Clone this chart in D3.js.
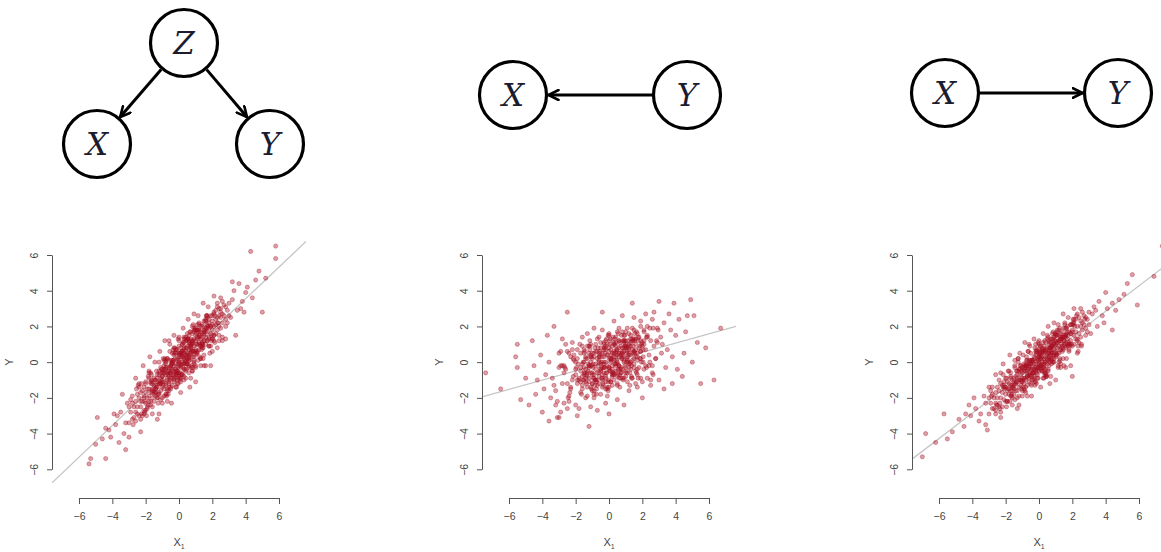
<!DOCTYPE html>
<html>
<head>
<meta charset="utf-8">
<script src="https://cdn.jsdelivr.net/npm/d3@7"></script>
<style>
  body { margin: 0; background: #fff; }
  svg { display: block; }
</style>
</head>
<body>
<svg id="chart" width="1161" height="552"></svg>
<script>
// ---------- DATA ----------
const xTicks = [-6, -4, -2, 0, 2, 4, 6];
const yTicks = [-6, -4, -2, 0, 2, 4, 6];
const xTitle = "X";
const xTitleSub = "1";
const yTitle = "Y";

// fitted regression lines (slope, intercept)
const slopes = [0.887, 0.259, 0.713];
const intercepts = [0.0, 0.03, 0.0];

// DAG nodes and edges
const dagNodes = [
  [{id: "Z", cx: 184, cy: 43}, {id: "X", cx: 97, cy: 144}, {id: "Y", cx: 270, cy: 144}],
  [{id: "X", cx: 513, cy: 95}, {id: "Y", cx: 687, cy: 95}],
  [{id: "X", cx: 945, cy: 93}, {id: "Y", cx: 1118, cy: 93}]
];
const dagEdges = [
  [["Z", "X"], ["Z", "Y"]],
  [["Y", "X"]],
  [["X", "Y"]]
];

// scatter points, panel 1 (common cause)
const points1 = [
[0.1,0.3],[-0.4,-0.9],[0.6,0.2],[1.2,1.5],[-0.8,-0.3],[0.3,-0.4],[-1.1,-1.6],[0.9,1.3],[-0.2,0.5],[0.5,0.9],
[1.4,0.8],[-1.3,-0.7],[0.0,-0.6],[0.7,1.7],[-0.6,-1.4],[1.0,0.4],[-0.9,-1.1],[0.2,1.0],[-0.3,-0.2],[1.3,2.0],
[-1.4,-1.9],[0.4,0.1],[-0.7,0.2],[0.8,0.6],[-0.1,-1.2],[1.1,1.0],[-1.0,-0.4],[0.6,1.2],[-0.5,-0.6],[0.0,0.4],
[1.5,1.2],[-1.2,-1.2],[0.3,0.7],[-0.4,0.0],[0.9,0.3],[-0.8,-1.8],[1.2,2.2],[0.1,-0.3],[-0.6,-0.5],[0.5,-0.1],
[-1.5,-2.2],[1.0,1.8],[-0.2,-0.7],[0.7,0.5],[-0.9,-0.2],[0.4,1.4],[-1.1,-0.9],[1.4,1.6],[-0.3,-1.0],[0.2,0.0],
[0.8,1.1],[-0.7,-1.0],[1.3,0.9],[-1.3,-2.0],[0.0,0.9],[0.6,-0.2],[-0.5,-1.5],[1.1,2.1],[-1.0,-1.4],[0.3,0.2],
[-0.1,0.1],[0.9,0.9],[-0.8,-0.7],[1.5,2.3],[-1.4,-1.0],[0.5,0.5],[-0.4,-0.4],[1.2,0.7],[-0.6,0.1],[0.1,0.8],
[0.7,1.0],[-1.2,-1.7],[0.4,-0.5],[-0.2,-0.1],[1.0,1.2],[-0.9,-1.5],[0.2,0.6],[1.4,1.1],[-0.7,-0.6],[0.8,1.6],
[-1.1,-0.3],[0.0,-0.2],[0.6,0.7],[-0.3,-0.8],[1.3,1.4],[-1.5,-1.3],[0.5,1.6],[-0.5,-0.2],[0.9,0.0],[-1.0,-2.0],
[0.3,-0.1],[1.1,0.6],[-0.6,-1.1],[0.1,0.5],[-1.3,-1.4],[0.7,1.3],[-0.2,-0.4],[1.5,1.8],[-0.8,-1.3],[0.4,0.8],
[-0.4,-1.3],[1.2,1.1],[0.0,0.0],[-0.9,-0.6],[0.6,0.4],[-1.2,-0.5],[0.8,2.0],[-0.1,-0.9],[1.0,0.7],[-0.7,-1.6],
[0.2,-0.7],[1.4,2.1],[-1.4,-1.5],[0.5,0.2],[-0.3,0.4],[0.9,1.7],[-1.1,-1.2],[0.3,1.1],[-0.5,-0.9],[1.3,1.7],
[0.1,-0.6],[-0.8,-0.1],[0.7,0.8],[-1.5,-1.8],[1.1,1.4],[-0.2,-1.4],[0.4,0.4],[-1.0,-0.8],[0.6,1.5],[-0.6,-0.3],
[1.5,1.5],[-1.3,-1.1],[0.0,1.2],[0.8,0.3],[-0.4,-0.5],[1.2,1.8],[-0.9,-1.9],[0.2,0.3],[-0.1,-0.5],[1.0,1.5],
[1.6,1.0],[2.0,2.3],[1.8,1.4],[2.4,2.0],[1.7,2.5],[2.2,1.6],[2.6,2.7],[1.9,2.0],[2.1,2.8],[2.8,2.4],
[1.6,1.9],[2.3,2.5],[2.0,1.3],[2.7,3.2],[1.8,2.2],[2.5,1.9],[2.9,2.9],[1.7,1.2],[2.2,2.1],[2.4,3.0],
[3.0,2.6],[1.9,1.6],[2.6,2.2],[2.1,2.0],[1.6,2.3],[2.8,3.1],[2.3,1.8],[2.0,2.6],[2.5,2.5],[1.7,1.7],
[2.9,2.2],[2.2,2.9],[1.8,0.9],[2.7,2.6],[2.4,1.5],[2.0,1.8],[1.6,1.4],[2.6,3.4],[3.0,3.3],[2.1,1.5],
[2.3,3.3],[1.9,2.6],[2.8,2.0],[2.5,2.8],[1.7,2.1],
[-1.6,-1.2],[-2.0,-2.3],[-1.8,-1.5],[-2.4,-2.0],[-1.7,-2.4],[-2.2,-1.6],[-2.6,-2.8],[-1.9,-2.0],[-2.1,-2.7],[-2.8,-2.3],
[-1.6,-2.0],[-2.3,-2.5],[-2.0,-1.2],[-2.7,-3.1],[-1.8,-2.2],[-2.5,-1.8],[-2.9,-2.8],[-1.7,-1.1],[-2.2,-2.2],[-2.4,-3.0],
[-3.0,-2.5],[-1.9,-1.5],[-2.6,-2.2],[-2.1,-1.9],[-1.6,-2.5],[-2.8,-3.2],[-2.3,-1.7],[-2.0,-2.7],[-2.5,-2.5],[-1.7,-1.7],
[-2.9,-2.1],[-2.2,-3.0],[-1.8,-0.9],[-2.7,-2.5],[-2.4,-1.4],[-2.0,-1.7],[-1.6,-1.5],[-2.6,-3.3],[-3.0,-3.4],[-2.1,-1.4],
[-2.3,-3.2],[-1.9,-2.6],[-2.8,-1.9],[-2.5,-2.9],[-1.7,-2.2],
[3.2,3.5],[3.5,2.9],[3.3,4.0],[3.8,3.4],[4.1,4.2],[3.6,4.4],[4.4,3.6],[3.1,2.5],[3.9,2.8],[4.3,6.2],
[5.8,6.5],[5.8,5.8],[5.0,2.8],[4.6,4.6],[3.4,1.5],[4.8,5.1],[3.7,3.0],[4.0,3.9],[5.2,4.7],[3.2,4.5],
[-3.2,-3.4],[-3.5,-2.8],[-3.3,-4.0],[-3.8,-3.5],[-4.1,-4.2],[-3.6,-4.5],[-4.4,-3.7],[-3.1,-2.3],[-3.9,-2.9],[-4.4,-5.4],
[-5.3,-5.4],[-4.9,-3.1],[-3.2,-4.9],[-4.6,-4.3],[-3.4,-1.8],[-5.0,-4.6],[-3.7,-3.0],[-4.2,-3.8],[-5.4,-5.7],[-3.0,-4.2]
];
// panel 1, additional points in the dense core
const points1Core = [
[-2.4,-1.2],[-1.9,-2.5],[-1.5,-0.9],[-1.1,-2.1],[-0.8,0.0],[-0.5,-0.7],[-0.3,0.8],[-0.1,-0.6],[0.0,0.1],[0.2,-0.7],
[0.4,1.2],[0.6,0.1],[0.8,1.2],[1.0,-0.3],[1.2,2.1],[1.5,1.2],[1.8,1.9],[2.1,1.2],[2.5,3.0],[-2.1,-2.9],
[-1.7,-0.6],[-1.3,-2.0],[-0.9,-0.4],[-0.6,-1.6],[-0.2,0.5],[0.1,-0.1],[0.3,1.4],[0.5,-0.1],[0.7,0.7],[0.9,-0.1],
[1.1,1.8],[1.4,0.9],[1.7,2.0],[2.0,0.6],[2.3,3.1],[-1.0,-1.0],[-0.4,-0.1],[0.0,-0.7],[0.5,1.3],[1.3,0.2],
[-2.3,-2.2],[-1.8,-0.5],[-1.4,-1.7],[-1.0,-0.8],[-0.7,-1.5],[-0.4,0.5],[-0.2,-0.6],[0.0,0.5],[0.1,-1.1],[0.3,1.3],
[0.5,0.4],[0.7,0.9],[0.9,0.1],[1.1,1.8],[1.3,0.2],[1.6,2.3],[1.9,0.9],[2.2,2.4],[2.6,1.2],[-2.0,-1.1],
[-1.6,-1.6],[-1.2,0.0],[-0.8,-1.2],[-0.5,-0.3],[-0.1,-1.0],[0.2,1.0],[0.4,0.0],[0.6,1.1],[0.8,-0.5],[1.0,1.9],
[1.2,1.0],[1.5,1.7],[1.8,0.9],[2.1,2.7],[2.4,1.2],[-0.9,0.1],[-0.3,-1.1],[0.1,0.5],[0.6,-0.6],[1.4,2.0],
[-2.55,-1.5],[-2.05,-2.2],[-1.65,-1.0],[-1.25,-2.3],[-0.95,0.2],[-0.65,-0.7],[-0.45,-0.1],[-0.25,-0.9],[-0.15,0.7],[0.05,-1.0],
[0.25,1.1],[0.45,-0.4],[0.65,1.0],[0.85,-0.3],[1.05,1.6],[1.35,1.0],[1.65,2.6],[1.95,1.2],[2.35,2.2],[-2.25,-2.9],
[-1.85,-0.8],[-1.45,-1.7],[-1.05,-0.4],[-0.75,-1.9],[-0.35,0.7],[-0.05,-0.1],[0.15,0.4],[0.35,-0.4],[0.55,1.3],[0.75,-0.3],
[0.95,1.8],[1.25,0.3],[1.55,1.8],[1.85,0.5],[2.15,2.6],[-1.15,-1.2],[-0.55,0.6],[-0.15,-0.6],[0.35,0.4],[1.15,0.1],
[-2.1,-2.0],[-1.6,-1.1],[-1.2,-1.8],[-0.8,0.1],[-0.5,-1.4],[-0.2,0.7],[0.0,-0.8],[0.2,0.6],[0.3,-0.8],[0.5,1.2],
[0.7,0.4],[0.9,1.9],[1.1,0.5],[1.3,1.3],[1.5,0.4],[1.8,2.4],[2.1,1.5],[2.4,2.6],[2.8,1.3],[-1.8,-0.6],
[-1.4,-1.3],[-1.0,-0.6],[-0.6,-1.2],[-0.3,0.5],[0.1,-0.9],[0.4,1.3],[0.6,-0.3],[0.8,1.1],[1.0,-0.2],[1.2,1.8],
[1.4,1.0],[1.7,2.6],[2.0,1.3],[2.3,2.2],[2.6,1.4],[-0.7,0.2],[-0.1,-0.5],[0.3,0.8],[0.8,-0.5],[1.6,2.4],
[-2.75,-3.5],[-2.25,-1.2],[-1.85,-2.4],[-1.45,-1.0],[-1.15,-1.1],[-0.85,0.2],[-0.65,-1.8],[-0.45,0.1],[-0.35,-0.7],[-0.15,0.7],
[0.05,-0.9],[0.25,0.3],[0.45,-0.1],[0.65,1.7],[0.85,0.6],[1.15,1.7],[1.45,0.2],[1.75,2.0],[2.15,1.1],[-2.45,-1.3],
[-2.05,-2.8],[-1.65,-0.7],[-1.25,-1.8],[-0.95,-0.5],[-0.55,-0.6],[-0.25,0.8],[-0.05,-1.2],[0.15,0.6],[0.35,-0.1],[0.55,1.3],
[0.75,-0.2],[1.05,1.0],[1.35,0.7],[1.65,2.6],[1.95,1.5],[-1.35,-0.5],[-0.75,-1.8],[-0.35,0.1],[0.15,-0.7],[0.95,1.8],
[-1.8,-1.9],[-1.5,-1.6],[-1.3,-0.9],[-1.1,-1.2],[-0.9,-0.6],[-0.7,-0.9],[-0.5,-0.2],[-0.3,-0.5],[-0.1,0.2],[0.1,-0.2],
[0.3,0.5],[0.5,0.2],[0.7,0.9],[0.9,0.6],[1.1,1.3],[1.3,0.9],[1.5,1.6],[1.7,1.2],[1.9,2.0],[-1.7,-1.2],
[-1.4,-1.5],[-1.2,-0.7],[-1.0,-1.1],[-0.8,-0.4],[-0.6,-0.8],[-0.4,0.0],[-0.2,-0.4],[0.0,0.3],[0.2,-0.1],[0.4,0.6],
[0.6,0.3],[0.8,1.0],[1.0,0.6],[1.2,1.4],[1.4,1.0],[1.6,1.7],[1.8,1.3],[2.0,2.1],[-1.6,-1.7],[-0.05,-0.3],
[-1.35,-1.4],[-1.15,-0.6],[-0.95,-1.3],[-0.75,-0.3],[-0.55,-1.0],[-0.35,0.1],[-0.15,-0.7],[0.05,0.5],[0.25,-0.3],[0.45,0.8],
[0.65,0.1],[0.85,1.2],[1.05,0.5],[1.25,1.5],[1.45,0.8],[1.65,1.9],[-0.25,0.2],[0.35,0.1],[0.75,0.6],[-0.65,-0.5]
];
// panel 1, points at the edges of the band
const points1Edge = [
[-2.6,-0.9],[-2.3,-3.9],[-2.15,-0.2],[-1.95,-3.0],[-1.75,0.3],[-1.6,-2.9],[-1.45,0.0],[-1.3,-3.2],[-1.15,0.6],[-1.0,-2.3],
[-0.85,1.2],[-0.7,-2.2],[-0.55,1.0],[-0.45,-2.3],[-0.3,1.5],[-0.15,-1.4],[0.0,1.4],[0.1,-1.7],[0.25,1.9],[0.4,-0.9],
[0.55,2.4],[0.7,-0.9],[0.85,2.1],[1.0,-1.1],[1.15,2.6],[1.3,-0.2],[1.45,3.3],[1.6,-0.2],[1.75,3.1],[1.9,-0.2],
[2.1,3.7],[2.3,0.8],[2.5,3.6],[-1.2,-2.9],[-0.6,1.2],[0.3,-1.0],[0.9,2.7],[1.5,-0.2],[-0.05,1.3],[0.65,-1.4]
];

// scatter points, panel 2 (Y causes X)
const points2 = [
[0.1,0.2],[-0.5,-0.4],[0.8,0.5],[1.3,1.1],[-1.0,-0.2],[0.4,-0.6],[-1.4,-1.1],[1.0,0.9],[-0.2,0.7],[0.6,1.2],
[1.6,0.3],[-1.7,-0.5],[0.0,-1.0],[0.9,1.5],[-0.7,-1.3],[1.2,-0.1],[-1.1,0.4],[0.3,1.0],[-0.3,-0.3],[1.8,1.4],
[-1.9,-1.2],[0.5,0.0],[-0.8,0.6],[1.1,0.6],[-0.1,-1.5],[1.4,0.7],[-1.3,-0.8],[0.7,-0.4],[-0.6,0.1],[0.2,0.5],
[2.0,0.9],[-1.5,0.0],[0.4,1.4],[-0.4,-0.9],[1.1,-0.6],[-1.0,-1.6],[1.5,1.8],[0.1,-0.5],[-0.8,-0.1],[0.6,0.3],
[-2.0,-0.7],[1.3,1.5],[-0.2,-1.1],[0.9,0.1],[-1.2,0.9],[0.5,1.7],[-1.4,-0.4],[1.7,0.5],[-0.3,0.3],[0.2,-0.8],
[1.0,1.2],[-0.9,-0.7],[1.6,1.0],[-1.6,-1.5],[0.0,0.8],[0.8,-0.9],[-0.5,-1.8],[1.4,1.3],[-1.2,-0.3],[0.3,0.1],
[-0.1,0.4],[1.2,0.4],[-1.0,0.2],[1.9,0.2],[-1.8,-0.9],[0.6,-0.2],[-0.5,0.8],[1.5,-0.3],[-0.7,-0.6],[0.1,1.3],
[0.9,0.8],[-1.5,-1.0],[0.5,-1.2],[-0.2,0.0],[1.3,0.0],[-1.1,-1.4],[0.3,0.6],[1.7,1.6],[-0.9,0.5],[1.0,-0.8],
[-1.4,0.3],[0.0,-0.3],[0.7,0.9],[-0.4,-1.4],[1.6,-0.5],[-1.9,0.2],[0.6,1.9],[-0.6,-0.8],[1.1,1.9],[-1.3,-1.9],
[0.4,0.3],[1.4,-0.9],[-0.8,-1.0],[0.1,0.0],[-1.6,-0.1],[0.9,1.1],[-0.3,-0.6],[1.9,1.2],[-1.0,-1.2],[0.5,0.7],
[-0.5,-0.1],[1.5,0.6],[0.0,1.6],[-1.2,-0.9],[0.8,0.2],[-1.5,0.7],[1.0,1.7],[-0.1,-1.9],[1.2,0.9],[-0.9,-2.0],
[0.2,-1.3],[1.8,0.8],[-1.7,-1.7],[0.6,0.5],[-0.3,1.0],[1.1,0.2],[-1.1,-0.6],[0.4,-0.1],[-0.6,0.4],[1.6,1.3],
[2.1,1.7],[-2.2,-1.0],[2.4,0.4],[-2.4,-1.9],[2.2,-0.2],[-2.1,0.1],[2.5,1.2],[-2.6,-0.4],[2.3,2.0],[-2.3,-1.4],
[2.7,0.9],[-2.8,-1.2],[2.9,1.9],[-3.0,-0.3],[2.6,-0.6],[-2.7,-2.3],[3.1,1.4],[-3.2,-1.6],[2.8,0.2],[-2.9,0.6],
[3.3,2.2],[-3.4,-0.9],[3.0,-1.0],[-3.1,-2.2],[3.5,0.7],[-3.6,0.0],[2.6,2.4],[-2.5,-2.6],[3.2,1.0],[-3.3,-1.3],
[3.4,-0.3],[-2.6,1.0],[2.9,1.1],[-3.5,-2.0],[3.7,1.8],[-3.8,-0.7],[3.6,2.7],[-2.9,-2.8],[2.5,-1.3],[-2.4,0.5],
[3.8,0.3],[-3.9,-1.5],[4.0,1.5],[-4.1,0.4],[3.3,-1.5],[-3.0,-3.1],[2.7,2.8],[-2.8,1.3],[4.2,2.4],[-4.3,-1.0],
[2.2,2.7],[-2.0,-2.4],[1.9,2.3],[-1.8,-2.6],[2.0,-1.1],[-2.2,1.1],[1.7,-1.4],[-1.6,1.4],[2.3,-0.9],[-1.3,1.6],
[1.5,2.5],[-1.1,-2.5],[0.8,2.6],[-0.7,-2.7],[0.5,-2.1],[-0.4,1.8],[1.2,-1.6],[-0.9,1.9],[0.3,2.3],[-0.2,-2.3],
[4.9,3.5],[6.7,1.9],[6.3,-1.0],[5.5,-1.2],[-1.2,-3.6],[-3.1,-3.1],[-5.5,1.0],[-5.6,0.3],[-5.5,-0.3],[-7.4,-0.6],
[-6.5,-1.5],[4.5,0.5],[5.0,0.0],[4.7,2.6],[5.3,1.1],[4.4,-0.8],[5.8,0.8],[3.9,3.3],[3.0,3.4],[1.4,3.3],
[-0.4,2.8],[-2.5,2.8],[-4.6,1.2],[-4.8,-2.4],[-4.4,-1.8],[-5.0,-0.9],[-4.0,-2.8],[-3.6,-3.3],[-1.9,-3.0],[0.0,-2.9],
[-4.5,-0.2],[4.1,-0.4],[3.8,-1.2],[4.6,1.7],[5.1,2.6],[-3.7,1.5],[-3.3,2.0],[0.9,-2.4],[2.0,-2.0],[-5.3,-2.1]
];
// panel 2, additional points in the dense core
const points2Core = [
[-2.8,-0.2],[-2.3,-1.5],[-1.9,0.7],[-1.5,-0.7],[-1.2,0.5],[-0.9,-1.6],[-0.6,0.0],[-0.4,-0.7],[-0.1,1.0],[0.1,-1.1],
[0.3,0.5],[0.5,-0.1],[0.8,1.7],[1.0,-0.5],[1.3,0.9],[1.6,-1.2],[1.9,0.6],[2.3,1.5],[2.8,0.2],[-2.5,0.6],
[-2.0,0.0],[-1.6,-1.3],[-1.3,0.9],[-1.0,-0.6],[-0.7,0.6],[-0.2,-1.5],[0.0,0.2],[0.2,-0.6],[0.4,1.1],[0.6,-0.9],
[0.9,0.6],[1.1,0.1],[1.4,1.9],[1.7,-0.4],[2.1,1.2],[2.5,-1.0],[-1.1,-0.2],[-0.3,0.8],[0.7,-0.3],[1.2,1.6],
[-2.65,-0.3],[-2.15,-0.8],[-1.75,1.0],[-1.35,-1.2],[-1.05,0.3],[-0.75,-1.8],[-0.45,0.0],[-0.25,0.8],[0.05,-0.5],[0.25,1.4],
[0.45,0.6],[0.65,-0.7],[0.95,1.5],[1.15,0.0],[1.45,1.2],[1.75,-0.9],[2.05,0.7],[2.45,0.0],[2.95,1.8],[-2.35,-1.7],
[-1.85,-0.1],[-1.45,-0.6],[-1.15,1.2],[-0.85,-1.0],[-0.55,0.5],[-0.05,-1.6],[0.15,0.1],[0.35,1.0],[0.55,-0.4],[0.75,1.5],
[1.05,0.8],[1.25,-0.6],[1.55,1.6],[1.85,0.2],[2.25,1.4],[2.65,-0.7],[-0.95,-0.1],[-0.15,-0.6],[0.85,1.2],[1.35,-0.8],
[-3.0,0.5],[-2.5,-1.2],[-2.1,0.4],[-1.7,-0.3],[-1.4,-2.0],[-1.1,0.3],[-0.8,-1.0],[-0.6,1.4],[-0.3,-0.3],[-0.1,0.4],
[0.1,-1.1],[0.3,1.1],[0.6,-0.4],[0.8,0.4],[1.1,-1.1],[1.4,1.2],[1.7,0.1],[2.1,1.8],[2.6,-0.2],[-2.7,-0.2],
[-2.2,0.7],[-1.8,-1.0],[-1.5,0.5],[-1.2,-0.2],[-0.9,-1.8],[-0.4,0.5],[-0.2,-0.9],[0.0,1.5],[0.2,-0.2],[0.4,0.5],
[0.7,-0.9],[0.9,1.2],[1.2,-0.3],[1.5,0.6],[1.9,-0.9],[2.3,1.4],[-1.3,-0.6],[-0.5,1.1],[0.5,-0.8],[1.0,0.8],
[-2.45,-2.0],[-1.95,-0.3],[-1.55,-1.0],[-1.15,0.7],[-0.85,-1.3],[-0.55,0.3],[-0.25,-0.3],[-0.05,1.5],[0.25,-0.7],[0.45,0.7],
[0.65,-1.4],[0.85,0.3],[1.15,1.2],[1.35,-0.2],[1.65,1.7],[1.95,1.0],[2.25,-0.3],[2.65,1.9],[3.15,0.5],[-2.15,0.2],
[-1.65,-1.8],[-1.25,-0.1],[-0.95,-0.9],[-0.65,0.8],[-0.35,-1.2],[0.15,0.4],[0.35,-0.1],[0.55,1.6],[0.75,-0.6],[0.95,0.9],
[1.25,-1.3],[1.45,0.5],[1.75,1.4],[2.05,0.0],[2.45,1.9],[2.85,1.2],[-0.75,-1.1],[0.05,1.2],[1.05,0.0],[1.55,1.2],
[-3.2,-2.4],[-2.7,-0.6],[-2.3,0.3],[-1.9,-1.0],[-1.6,0.9],[-1.3,0.2],[-1.0,-1.2],[-0.8,1.0],[-0.5,-0.4],[-0.3,0.7],
[-0.1,-1.4],[0.1,0.2],[0.4,-0.5],[0.6,1.2],[0.9,-0.9],[1.2,0.7],[1.5,0.2],[1.9,2.0],[2.4,-0.2],[-2.9,-0.2],
[-2.4,-2.2],[-2.0,-0.4],[-1.7,0.5],[-1.4,-0.9],[-1.1,1.0],[-0.6,0.3],[-0.4,-1.0],[-0.2,1.2],[0.0,-0.3],[0.2,0.9],
[0.5,-1.3],[0.7,0.4],[1.0,-0.3],[1.3,1.3],[1.7,-0.7],[2.1,1.0],[-1.5,-0.6],[-0.7,1.3],[0.3,-0.7],[0.8,0.8],
[-1.6,-0.8],[-1.4,0.2],[-1.2,-1.1],[-1.0,0.5],[-0.8,-0.4],[-0.6,-1.2],[-0.4,0.3],[-0.2,-0.8],[0.0,0.6],[0.2,-0.4],
[0.4,0.9],[0.6,-0.2],[0.8,0.6],[1.0,-0.6],[1.2,1.0],[1.4,0.1],[1.6,0.7],[1.8,-0.3],[2.0,1.1],[-1.5,-0.3],
[-1.3,-1.4],[-1.1,0.0],[-0.9,-0.9],[-0.7,0.2],[-0.5,-0.5],[-0.3,1.1],[-0.1,-0.2],[0.1,0.7],[0.3,-1.0],[0.5,0.4],
[0.7,-0.6],[0.9,1.2],[1.1,0.3],[1.3,-0.4],[1.5,1.3],[1.7,0.3],[1.9,0.6],[2.1,-0.4],[-1.7,-1.1],[-0.35,-1.3],
[-1.45,0.6],[-1.25,-0.5],[-1.05,-1.5],[-0.85,0.8],[-0.65,-0.2],[-0.45,-0.9],[-0.25,0.5],[-0.05,-1.1],[0.15,0.2],[0.35,1.3],
[0.55,-0.7],[0.75,0.2],[0.95,-0.2],[1.15,0.8],[1.35,-0.9],[1.55,0.5],[1.75,1.2],[1.95,0.0],[2.2,0.7],[-0.15,1.3],
[-1.55,0.0],[-1.35,-0.7],[-1.15,0.9],[-0.95,-0.3],[-0.75,-1.5],[-0.55,0.6],[-0.35,-0.1],[-0.15,-0.6],[0.05,1.0],[0.25,-0.6],
[0.45,0.1],[0.65,1.1],[0.85,-1.0],[1.05,0.5],[1.25,-0.1],[1.45,0.9],[1.65,-0.6],[1.85,0.9],[2.05,0.3],[0.0,-1.4],
[-0.9,0.3],[-0.6,-0.6],[-0.3,0.0],[0.0,-0.4],[0.3,0.3],[0.6,0.8],[0.9,0.0],[1.2,0.5],[1.5,-0.1],[-1.2,-0.2],
[-0.7,-1.0],[-0.2,0.9],[0.2,-0.7],[0.7,0.5],[1.0,1.0],[1.3,0.4],[-0.4,-0.3],[0.4,-0.2],[0.8,-0.4],[-1.0,-0.7]
];

// scatter points, panel 3 (X causes Y)
const points3 = [
[0.1,0.2],[-0.4,-0.6],[0.6,0.1],[1.2,1.2],[-0.8,-0.2],[0.3,-0.3],[-1.1,-1.3],[0.9,1.0],[-0.2,0.4],[0.5,0.8],
[1.4,0.6],[-1.3,-0.5],[0.0,-0.5],[0.7,1.3],[-0.6,-1.1],[1.0,0.3],[-0.9,-0.9],[0.2,0.8],[-0.3,-0.1],[1.3,1.6],
[-1.4,-1.6],[0.4,0.0],[-0.7,0.1],[0.8,0.5],[-0.1,-0.9],[1.1,0.8],[-1.0,-0.3],[0.6,1.0],[-0.5,-0.4],[0.0,0.3],
[1.5,1.0],[-1.2,-1.0],[0.3,0.6],[-0.4,0.1],[0.9,0.2],[-0.8,-1.4],[1.2,1.8],[0.1,-0.2],[-0.6,-0.3],[0.5,-0.1],
[-1.5,-1.8],[1.0,1.5],[-0.2,-0.5],[0.7,0.4],[-0.9,-0.1],[0.4,1.1],[-1.1,-0.7],[1.4,1.4],[-0.3,-0.8],[0.2,0.0],
[0.8,0.9],[-0.7,-0.8],[1.3,0.7],[-1.3,-1.6],[0.0,0.7],[0.6,-0.2],[-0.5,-1.2],[1.1,1.7],[-1.0,-1.1],[0.3,0.2],
[-0.1,0.1],[0.9,0.7],[-0.8,-0.5],[1.5,1.9],[-1.4,-0.8],[0.5,0.4],[-0.4,-0.3],[1.2,0.5],[-0.6,0.1],[0.1,0.6],
[0.7,0.8],[-1.2,-1.4],[0.4,-0.4],[-0.2,-0.1],[1.0,1.0],[-0.9,-1.2],[0.2,0.5],[1.4,0.9],[-0.7,-0.5],[0.8,1.3],
[-1.1,-0.2],[0.0,-0.1],[0.6,0.6],[-0.3,-0.6],[1.3,1.2],[-1.5,-1.1],[0.5,1.3],[-0.5,-0.1],[0.9,0.0],[-1.0,-1.6],
[0.3,-0.1],[1.1,0.5],[-0.6,-0.9],[0.1,0.4],[-1.3,-1.1],[0.7,1.1],[-0.2,-0.3],[1.5,1.5],[-0.8,-1.0],[0.4,0.7],
[-0.4,-1.0],[1.2,0.9],[0.0,0.0],[-0.9,-0.5],[0.6,0.3],[-1.2,-0.4],[0.8,1.6],[-0.1,-0.7],[1.0,0.6],[-0.7,-1.3],
[0.2,-0.5],[1.4,1.7],[-1.4,-1.2],[0.5,0.2],[-0.3,0.3],[0.9,1.4],[-1.1,-1.0],[0.3,0.9],[-0.5,-0.7],[1.3,1.4],
[0.1,-0.4],[-0.8,-0.1],[0.7,0.6],[-1.5,-1.5],[1.1,1.1],[-0.2,-1.1],[0.4,0.3],[-1.0,-0.6],[0.6,1.2],[-0.6,-0.2],
[1.5,1.2],[-1.3,-0.9],[0.0,1.0],[0.8,0.2],[-0.4,-0.4],[1.2,1.5],[-0.9,-1.5],[0.2,0.2],[-0.1,-0.4],[1.0,1.2],
[1.6,0.8],[2.0,1.8],[1.8,1.1],[2.4,1.6],[1.7,2.0],[2.2,1.3],[2.6,2.2],[1.9,1.6],[2.1,2.2],[2.8,1.9],
[1.6,1.5],[2.3,2.0],[2.0,0.9],[2.7,2.6],[1.8,1.7],[2.5,1.4],[2.9,2.4],[1.7,0.9],[2.2,1.7],[2.4,2.5],
[3.0,2.1],[1.9,1.2],[2.6,1.8],[2.1,1.5],[1.6,1.9],[2.8,2.5],[2.3,1.3],[2.0,2.1],[2.5,2.0],[1.7,1.3],
[2.9,1.7],[2.2,2.4],[1.8,0.6],[2.7,2.1],[2.4,1.1],[2.0,-0.8],[1.6,1.1],[2.6,2.8],[3.0,2.8],[2.1,1.0],
[2.3,2.7],[1.9,2.1],[2.8,1.5],[2.5,2.3],[1.7,1.7],
[-1.6,-1.0],[-2.0,-1.8],[-1.8,-1.2],[-2.4,-1.6],[-1.7,-1.9],[-2.2,-1.3],[-2.6,-2.3],[-1.9,-1.6],[-2.1,-2.1],[-2.8,-1.8],
[-1.6,-1.6],[-2.3,-2.0],[-2.0,-0.9],[-2.7,-2.6],[-1.8,-1.8],[-2.5,-1.4],[-2.9,-2.3],[-1.7,-0.8],[-2.2,-1.7],[-2.4,-2.5],
[-3.0,-2.0],[-1.9,-1.1],[-2.6,-1.7],[-2.1,-1.5],[-1.6,-2.0],[-2.8,-2.6],[-2.3,-1.2],[-2.0,-2.2],[-2.5,-2.0],[-1.7,-1.3],
[-2.9,-1.6],[-2.2,-2.5],[-1.8,-0.5],[-2.7,-2.0],[-2.4,-1.0],[-2.0,-1.4],[-1.6,-1.3],[-2.6,-2.9],[-3.0,-2.9],[-2.1,-1.1],
[-2.3,-2.8],[-1.9,-2.2],[-2.8,-1.4],[-2.5,-2.4],[-1.7,-1.6],
[7.4,6.5],[6.9,4.8],[5.6,4.9],[5.9,3.2],[4.4,1.8],[3.2,2.7],[3.5,2.0],[3.3,3.1],[3.8,2.6],[4.1,3.0],
[3.6,3.4],[4.4,3.3],[3.1,1.6],[3.9,2.2],[4.8,3.5],[5.1,3.8],[4.0,3.9],[3.4,2.9],[4.6,2.9],[5.3,4.4],
[-3.2,-2.3],[-3.5,-2.9],[-3.3,-1.9],[-3.8,-2.6],[-4.1,-3.0],[-3.6,-3.3],[-4.4,-2.9],[-3.1,-3.8],[-3.9,-2.0],[-4.5,-3.6],
[-5.7,-2.9],[-6.8,-4.0],[-7.0,-5.3],[-5.2,-3.9],[-4.8,-3.2],[-5.5,-4.3],[-4.2,-2.4],[-3.2,-3.5],[-6.2,-4.5],[-3.0,-1.4]
];
// panel 3, additional points in the dense core
const points3Core = [
[-2.35,-2.3],[-1.85,-0.5],[-1.45,-2.1],[-1.05,-0.5],[-0.75,0.1],[-0.45,-0.8],[-0.25,0.8],[-0.05,-0.9],[0.05,0.2],[0.25,0.7],
[0.45,-0.8],[0.65,0.8],[0.85,0.4],[1.05,1.5],[1.25,0.2],[1.55,2.2],[1.85,1.0],[2.15,2.0],[2.55,0.9],[-2.05,-1.4],
[-1.65,-1.8],[-1.25,0.0],[-0.85,-1.6],[-0.55,-0.1],[-0.15,0.6],[0.15,-0.3],[0.35,1.2],[0.55,-0.4],[0.75,0.7],[0.95,1.2],
[1.15,-0.3],[1.45,1.4],[1.75,1.0],[2.05,2.2],[2.35,0.9],[-0.95,0.4],[-0.35,-0.6],[0.05,0.5],[0.55,-0.5],[1.35,1.0],
[-2.6,-2.7],[-2.1,-1.3],[-1.7,-0.6],[-1.3,-2.0],[-1.0,-0.3],[-0.7,-0.7],[-0.5,0.5],[-0.3,-0.9],[-0.2,1.0],[0.0,-0.3],
[0.2,0.7],[0.4,-0.6],[0.6,0.5],[0.8,0.0],[1.0,1.6],[1.3,-0.1],[1.6,1.4],[1.9,2.1],[2.3,1.2],[-2.3,-0.6],
[-1.9,-2.2],[-1.5,-0.9],[-1.1,-0.2],[-0.8,-1.7],[-0.4,0.1],[-0.1,-0.3],[0.1,0.9],[0.3,-0.5],[0.5,1.5],[0.7,0.2],
[0.9,1.1],[1.2,0.0],[1.5,1.2],[1.8,0.7],[2.1,2.4],[-1.2,-1.9],[-0.6,-0.1],[-0.2,0.6],[0.3,-0.2],[1.1,1.8],
[-2.15,-0.7],[-1.65,-1.9],[-1.25,0.2],[-0.85,-0.9],[-0.55,0.1],[-0.25,-1.1],[-0.05,0.1],[0.15,-0.5],[0.25,1.1],[0.45,-0.7],
[0.65,0.8],[0.85,1.3],[1.05,0.4],[1.25,1.9],[1.45,0.2],[1.75,1.5],[2.05,2.1],[2.35,0.6],[2.75,2.4],[-1.85,-1.5],
[-1.45,-0.2],[-1.05,-1.5],[-0.65,0.6],[-0.35,-0.6],[0.05,0.5],[0.35,-0.7],[0.55,0.5],[0.75,-0.1],[0.95,1.6],[1.15,-0.2],
[1.35,1.3],[1.65,1.9],[1.95,1.0],[2.25,2.6],[2.55,1.0],[-0.75,-0.3],[-0.15,0.5],[0.25,-0.9],[0.75,0.9],[1.55,0.9],
[-2.85,-1.9],[-2.35,-2.6],[-1.95,-0.9],[-1.55,-1.4],[-1.25,0.2],[-0.95,-1.4],[-0.75,0.3],[-0.55,-0.6],[-0.45,0.1],[-0.25,-1.3],
[-0.05,0.6],[0.15,0.3],[0.35,-0.6],[0.55,1.4],[0.75,0.1],[1.05,1.5],[1.35,1.3],[1.65,0.2],[2.05,2.4],[-2.55,-2.4],
[-2.15,-1.4],[-1.75,-2.2],[-1.35,-0.5],[-1.05,-1.1],[-0.65,0.6],[-0.35,-1.0],[-0.15,0.7],[0.05,-0.2],[0.25,0.6],[0.45,-0.8],
[0.65,1.1],[0.95,0.9],[1.25,0.1],[1.55,2.1],[1.85,0.9],[-1.45,-0.3],[-0.85,-0.3],[-0.45,-1.3],[0.05,0.9],[0.85,0.0],
[-1.8,-1.5],[-1.5,-1.3],[-1.3,-0.7],[-1.1,-1.0],[-0.9,-0.4],[-0.7,-0.8],[-0.5,-0.1],[-0.3,-0.4],[-0.1,0.2],[0.1,-0.2],
[0.3,0.5],[0.5,0.1],[0.7,0.8],[0.9,0.4],[1.1,1.1],[1.3,0.7],[1.5,1.4],[1.7,1.0],[1.9,1.6],[-1.7,-0.9],
[-1.4,-1.2],[-1.2,-0.5],[-1.0,-0.9],[-0.8,-0.2],[-0.6,-0.7],[-0.4,0.1],[-0.2,-0.4],[0.0,0.3],[0.2,-0.1],[0.4,0.6],
[0.6,0.2],[0.8,0.9],[1.0,0.5],[1.2,1.2],[1.4,0.8],[1.6,1.5],[1.8,1.0],[2.0,1.7],[-1.6,-1.4],[-0.05,-0.3],
[-1.35,-1.1],[-1.15,-0.4],[-0.95,-1.0],[-0.75,-0.2],[-0.55,-0.8],[-0.35,0.0],[-0.15,-0.6],[0.05,0.4],[0.25,-0.3],[0.45,0.7],
[0.65,0.0],[0.85,1.0],[1.05,0.4],[1.25,1.3],[1.45,0.7],[1.65,1.6],[-0.25,0.2],[0.35,0.0],[0.75,0.5],[-0.65,-0.4]
];
// panel 3, points at the edges of the band
const points3Edge = [
[-2.6,-0.7],[-2.3,-3.1],[-2.15,-0.1],[-1.95,-2.5],[-1.75,0.4],[-1.6,-2.4],[-1.45,0.1],[-1.3,-2.6],[-1.15,0.5],[-1.0,-1.9],
[-0.85,1.1],[-0.7,-1.9],[-0.55,0.9],[-0.45,-1.9],[-0.3,1.3],[-0.15,-1.2],[0.0,1.2],[0.1,-1.4],[0.25,1.6],[0.4,-0.8],
[0.55,2.0],[0.7,-0.8],[0.85,1.7],[1.0,-1.0],[1.15,2.1],[1.3,-0.3],[1.45,2.7],[1.6,-0.3],[1.75,2.5],[1.9,-0.2],
[2.1,3.0],[2.3,0.5],[2.5,3.0],[-1.2,-2.4],[-0.6,1.0],[0.3,-0.9],[0.9,2.2],[1.5,-0.2],[-0.05,1.1],[0.65,-1.2]
];

const allPoints = [
  points1.concat(points1Core, points1Edge),
  points2.concat(points2Core),
  points3.concat(points3Core, points3Edge)
];

// ---------- LAYOUT ----------
const svg = d3.select("#chart");
const axisLefts = [52, 482, 912];   // y-axis line positions
const tickGap = 27;                  // gap between y-axis and x = -6
const tickSpan = 200;                // px from -6 to 6 on x
const yTop = 255, yBot = 469.3;      // y positions of 6 and -6
const xAxisY = 498;
const plotTop = 228;
const nodeR = 33.5;

// arrow marker (open V)
const defs = svg.append("defs");
defs.append("marker")
  .attr("id", "arrow")
  .attr("viewBox", "0 0 12 12")
  .attr("refX", 11).attr("refY", 6)
  .attr("markerWidth", 12).attr("markerHeight", 12)
  .attr("markerUnits", "userSpaceOnUse")
  .attr("orient", "auto")
  .append("path")
  .attr("d", "M1,1 L11,6 L1,11")
  .attr("fill", "none")
  .attr("stroke", "#000")
  .attr("stroke-width", 2.6)
  .attr("stroke-linecap", "round")
  .attr("stroke-linejoin", "round");

// ---------- DAGs ----------
dagNodes.forEach((nodes, i) => {
  const g = svg.append("g").attr("class", "dag");
  const byId = Object.fromEntries(nodes.map(n => [n.id, n]));
  dagEdges[i].forEach(([a, b]) => {
    const s = byId[a], t = byId[b];
    const dx = t.cx - s.cx, dy = t.cy - s.cy;
    const L = Math.hypot(dx, dy);
    const ux = dx / L, uy = dy / L;
    const r0 = nodeR + 1.5, r1 = nodeR + 2;
    g.append("line")
      .attr("x1", s.cx + ux * r0).attr("y1", s.cy + uy * r0)
      .attr("x2", t.cx - ux * r1).attr("y2", t.cy - uy * r1)
      .attr("stroke", "#000").attr("stroke-width", 3)
      .attr("marker-end", "url(#arrow)");
  });
  g.selectAll("circle").data(nodes).join("circle")
    .attr("cx", d => d.cx).attr("cy", d => d.cy).attr("r", nodeR)
    .attr("fill", "#fff").attr("stroke", "#000").attr("stroke-width", 3.2);
  g.selectAll("text").data(nodes).join("text")
    .attr("x", d => d.cx).attr("y", d => d.cy + 11)
    .attr("text-anchor", "middle")
    .attr("font-family", "'DejaVu Serif', 'Liberation Serif', serif")
    .attr("font-style", "italic")
    .attr("font-size", 31)
    .attr("fill", "#1c1c30")
    .text(d => d.id);
});

// ---------- SCATTER PANELS ----------
allPoints.forEach((pts, i) => {
  const axX = axisLefts[i];
  const x0 = axX + tickGap;
  const x = d3.scaleLinear().domain([-6, 6]).range([x0, x0 + tickSpan]);
  const y = d3.scaleLinear().domain([-6, 6]).range([yBot, yTop]);
  const left = axX, right = x0 + tickSpan + tickGap;

  const g = svg.append("g").attr("class", "panel");
  const clipId = "clip" + i;
  defs.append("clipPath").attr("id", clipId)
    .append("rect")
    .attr("x", left).attr("y", plotTop)
    .attr("width", right - left).attr("height", xAxisY - plotTop);

  const plot = g.append("g").attr("clip-path", `url(#${clipId})`);

  // regression line (under the points)
  const xs = [x.invert(left), x.invert(right)];
  plot.append("line")
    .attr("x1", x(xs[0])).attr("y1", y(slopes[i] * xs[0] + intercepts[i]))
    .attr("x2", x(xs[1])).attr("y2", y(slopes[i] * xs[1] + intercepts[i]))
    .attr("stroke", "#c4c4c4").attr("stroke-width", 1.3);

  plot.selectAll("circle").data(pts).join("circle")
    .attr("cx", d => x(d[0])).attr("cy", d => y(d[1]))
    .attr("r", 2.1)
    .attr("fill", "rgba(168,16,34,0.40)")
    .attr("stroke", "rgba(165,16,34,0.50)")
    .attr("stroke-width", 0.7);

  // x axis
  const xa = g.append("g").attr("transform", `translate(0,${xAxisY})`)
    .call(d3.axisBottom(x).tickValues(xTicks).tickSize(6).tickSizeOuter(0).tickFormat(d3.format("d")));
  xa.select(".domain").attr("stroke", "#555");
  xa.selectAll(".tick line").attr("stroke", "#555");
  xa.selectAll(".tick text")
    .attr("font-family", "'Liberation Sans', Arial, sans-serif")
    .attr("font-size", 10.5).attr("fill", "#444").attr("dy", "1.25em");

  // y axis
  const ya = g.append("g").attr("transform", `translate(${axX},0)`)
    .call(d3.axisLeft(y).tickValues(yTicks).tickSize(5).tickSizeOuter(0).tickFormat(d3.format("d")));
  ya.select(".domain").attr("stroke", "#555");
  ya.selectAll(".tick line").attr("stroke", "#555");
  ya.selectAll(".tick text")
    .attr("font-family", "'Liberation Sans', Arial, sans-serif")
    .attr("font-size", 10.5).attr("fill", "#444")
    .attr("text-anchor", "middle")
    .attr("x", 0).attr("y", 0).attr("dy", 0)
    .attr("transform", "translate(-17,0) rotate(-90)")
    .attr("dominant-baseline", "middle");

  // axis titles
  const xt = g.append("text")
    .attr("x", x(0)).attr("y", xAxisY + 48)
    .attr("text-anchor", "middle")
    .attr("font-family", "'Liberation Sans', Arial, sans-serif")
    .attr("font-size", 11).attr("fill", "#444");
  xt.append("tspan").text(xTitle);
  xt.append("tspan").attr("font-size", 7).attr("dy", 3).text(xTitleSub);

  g.append("text")
    .attr("transform", `translate(${axX - 42},${y(0)}) rotate(-90)`)
    .attr("text-anchor", "middle")
    .attr("dominant-baseline", "middle")
    .attr("font-family", "'Liberation Sans', Arial, sans-serif")
    .attr("font-size", 11).attr("fill", "#444")
    .text(yTitle);
});
</script>
</body>
</html>
